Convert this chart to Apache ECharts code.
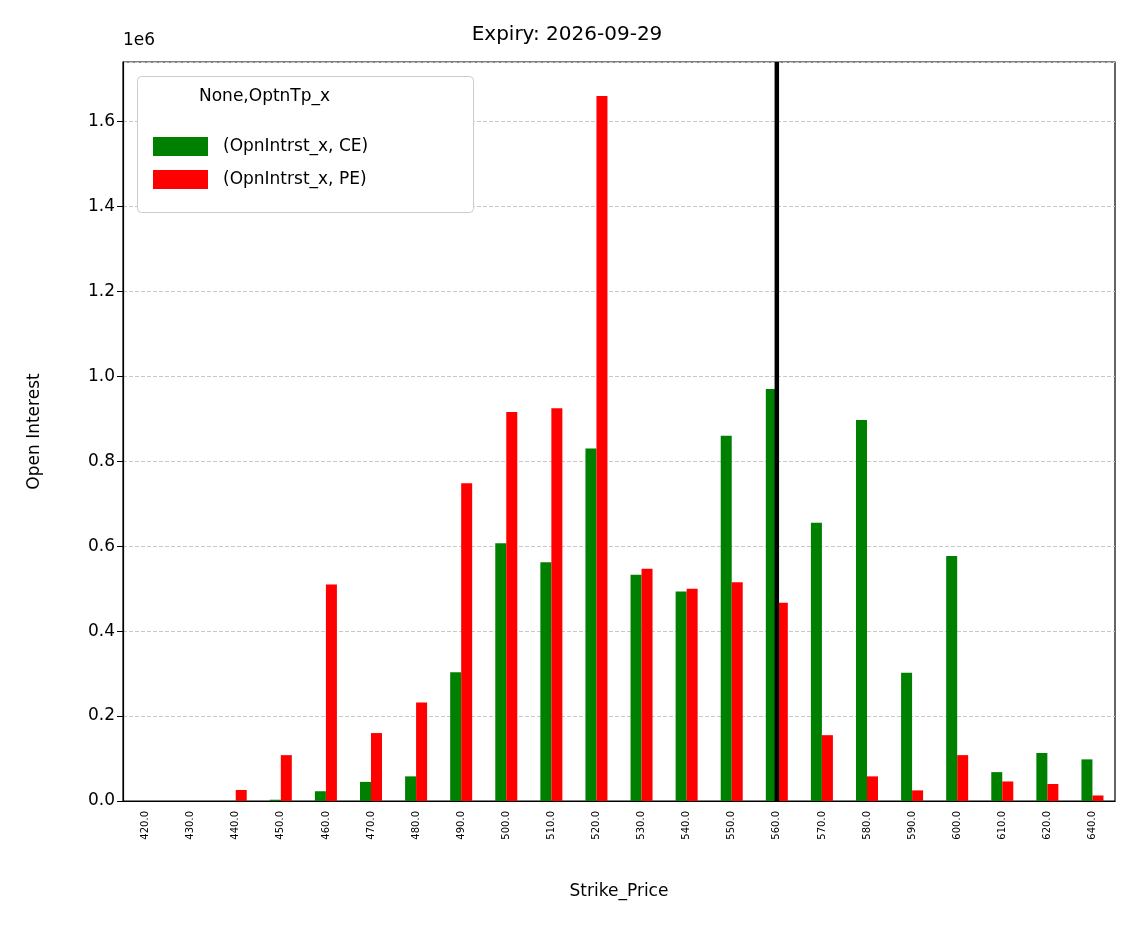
<!DOCTYPE html>
<html><head><meta charset="utf-8">
<script src="https://cdn.jsdelivr.net/npm/echarts@6/dist/echarts.min.js"></script>
<style>html,body{margin:0;padding:0;background:#fff}#c{width:1134px;height:928px}</style>
</head><body><div id="c"></div>
<script>
const categories = ['420.0','430.0','440.0','450.0','460.0','470.0','480.0','490.0','500.0','510.0','520.0','530.0','540.0','550.0','560.0','570.0','580.0','590.0','600.0','610.0','620.0','640.0'];
const ceValues = [0,0,0,0.003,0.023,0.045,0.058,0.303,0.607,0.562,0.83,0.533,0.493,0.86,0.97,0.655,0.897,0.302,0.577,0.068,0.113,0.098];
const peValues = [0,0,0.026,0.108,0.51,0.16,0.232,0.748,0.916,0.925,1.66,0.547,0.5,0.515,0.467,0.155,0.058,0.025,0.108,0.046,0.04,0.013];
const markStrike = '560.0';
const yMax = 1.74;
const F = 'DejaVu Sans';
const chart = echarts.init(document.getElementById('c'));
chart.setOption({
  animation:false,
  title:{text:'Expiry: 2026-09-29',left:'center',top:20,textStyle:{fontFamily:F,fontSize:20,fontWeight:'normal',color:'#000'}},
  grid:{left:123,right:19,top:62,bottom:127,show:true,borderColor:'#000',borderWidth:1.2,backgroundColor:'transparent'},
  legend:{orient:'vertical',left:148,top:132,itemWidth:55,itemHeight:19,itemGap:14,icon:'rect',
    textStyle:{fontFamily:F,fontSize:17,color:'#000',padding:[0,0,0,10]},
    data:['(OpnIntrst_x, CE)','(OpnIntrst_x, PE)']},
  graphic:[
    {type:'rect',left:137,top:76,shape:{width:336,height:136,r:4},style:{fill:'#fff',stroke:'#ccc',lineWidth:1},z:1},
    {type:'text',left:199,top:88,style:{text:'None,OptnTp_x',fontFamily:F,fontSize:17,fill:'#000'},z:2},
    {type:'text',left:123,top:32,style:{text:'1e6',fontFamily:F,fontSize:17,fill:'#000'}}
  ],
  xAxis:{type:'category',data:categories,name:'Strike_Price',nameLocation:'middle',nameGap:82,
    nameTextStyle:{fontFamily:F,fontSize:17,color:'#000'},
    axisLine:{lineStyle:{color:'#000',width:1.2}},axisTick:{alignWithLabel:true,length:6,lineStyle:{color:'#000'}},
    axisLabel:{rotate:90,fontFamily:F,fontSize:10,color:'#000',margin:10}},
  yAxis:{type:'value',min:0,max:yMax,interval:0.2,name:'Open Interest',nameLocation:'middle',nameGap:80,
    nameTextStyle:{fontFamily:F,fontSize:17,color:'#000'},
    axisLine:{show:true,lineStyle:{color:'#000',width:1.2}},axisTick:{show:true,length:6,lineStyle:{color:'#000'}},
    axisLabel:{fontFamily:F,fontSize:17,color:'#000',showMaxLabel:false,formatter:v=>v.toFixed(1)},
    splitLine:{show:true,lineStyle:{color:'#c8c8c8',type:'dashed',width:1}}},
  series:[
    {name:'(OpnIntrst_x, CE)',type:'bar',data:ceValues,barWidth:11,barGap:'0%',itemStyle:{color:'#008000'}},
    {name:'(OpnIntrst_x, PE)',type:'bar',data:peValues,barWidth:11,itemStyle:{color:'#ff0000'}},
    {name:'strike',type:'line',data:[[markStrike,0],[markStrike,yMax]],symbol:'none',silent:true,z:5,
      lineStyle:{color:'#000',width:4.5}}
  ]
});
</script></body></html>
